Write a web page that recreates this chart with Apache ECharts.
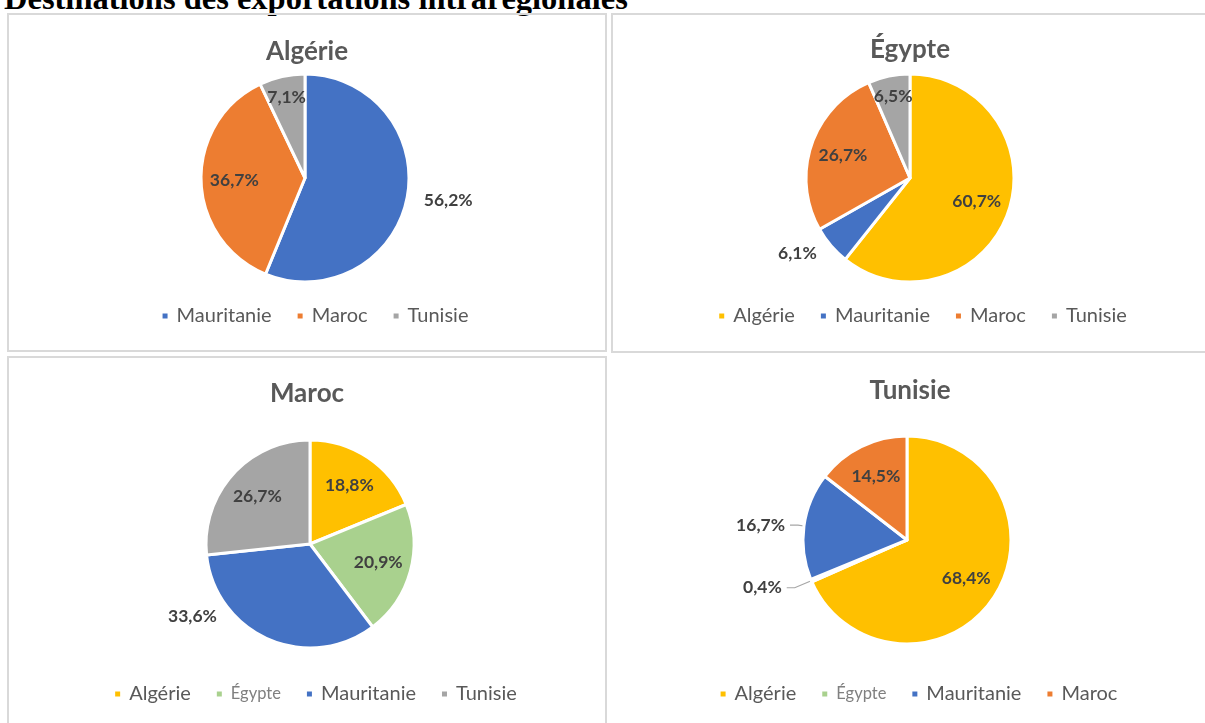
<!DOCTYPE html>
<html>
<head>
<meta charset="utf-8">
<script src="https://cdn.jsdelivr.net/npm/echarts@6/dist/echarts.min.js"></script>
<style>
html, body { margin: 0; padding: 0; width: 1205px; height: 723px; overflow: hidden; background: #fff; }
.cell { position: absolute; box-sizing: border-box; border: 2px solid #d9d9d9; }
.chart { position: absolute; }
#title { position: absolute; left: 4px; top: -18px; font: bold 32.5px "Liberation Serif"; line-height: 32px; white-space: nowrap; color: #000; }
</style>
</head>
<body>
<div id="title">Destinations des exportations intrarégionales</div>
<div class="cell" style="left:7px;top:13px;width:600px;height:339px"></div>
<div class="cell" style="left:611px;top:13px;width:700px;height:340px"></div>
<div class="cell" style="left:7px;top:356px;width:600px;height:400px"></div>
<div class="chart" id="c1" style="left:9px;top:15px;width:596px;height:335px"></div>
<div class="chart" id="c2" style="left:613px;top:15px;width:594px;height:336px"></div>
<div class="chart" id="c3" style="left:9px;top:358px;width:596px;height:365px"></div>
<div class="chart" id="c4" style="left:608px;top:353px;width:604px;height:370px"></div>
<script>
// parts de chaque destination (%)
var algerieNames = ['Mauritanie', 'Maroc', 'Tunisie'];
var algerieValues = [56.2, 36.7, 7.1];

var egypteNames = ['Algérie', 'Mauritanie', 'Maroc', 'Tunisie'];
var egypteValues = [60.7, 6.1, 26.7, 6.5];

var marocNames = ['Algérie', 'Égypte', 'Mauritanie', 'Tunisie'];
var marocValues = [18.8, 20.9, 33.6, 26.7];

var tunisieNames = ['Algérie', 'Égypte', 'Mauritanie', 'Maroc'];
var tunisieValues = [68.4, 0.4, 16.7, 14.5];

var colors = {
    'Algérie': '#FFC000',
    'Égypte': '#A9D18E',
    'Mauritanie': '#4472C4',
    'Maroc': '#ED7D31',
    'Tunisie': '#A5A5A5'
};

var R = 104;
var LEGEND_FONT = 20, EGYPT_FONT = 16.5, ITEM_GAP = 24;

var panels = [{
    id: 'c1', title: 'Algérie', names: algerieNames, values: algerieValues,
    modes: ['out', 'in', 'in'], center: [296, 163], titleTop: 24, legendTop: 291, legendShift: 6
}, {
    id: 'c2', title: 'Égypte', names: egypteNames, values: egypteValues,
    modes: ['in', 'out', 'in', 'in'], center: [297, 163], titleTop: 22, legendTop: 291, legendShift: 10
}, {
    id: 'c3', title: 'Maroc', names: marocNames, values: marocValues,
    modes: ['in', 'in', 'out', 'in'], center: [301, 186], titleTop: 23, legendTop: 326, legendShift: 6,
    nudge: { 2: [-42, -34] }, smallEgypt: true
}, {
    id: 'c4', title: 'Tunisie', names: tunisieNames, values: tunisieValues,
    modes: ['in', 'line', 'line', 'in'], center: [299, 187], titleTop: 25, legendTop: 331, legendShift: 6,
    smallEgypt: true
}];

function fmt(v) {
    return v.toFixed(1).replace('.', ',') + '%';
}

// rough legend width so it can sit a little right of centre, like in Excel
var measureCtx = document.createElement('canvas').getContext('2d');
function legendWidth(p) {
    var w = 0;
    p.names.forEach(function (n, i) {
        var fs = (p.smallEgypt && n === 'Égypte') ? EGYPT_FONT : LEGEND_FONT;
        measureCtx.font = fs + 'px Lato';
        w += 7 + 5 + 3 + measureCtx.measureText(n).width;
        if (i > 0) w += ITEM_GAP;
    });
    return w;
}

panels.forEach(function (p) {
    var total = p.values.reduce(function (a, b) { return a + b; }, 0);
    var acc = 0;
    // push inside labels out from half radius
    var shifts = p.values.map(function (v, i) {
        var mid = (acc + v / 2) / total * 2 * Math.PI;
        acc += v;
        if (p.nudge && p.nudge[i]) return p.nudge[i];
        if (p.modes[i] !== 'in') return [0, 0];
        var k = v < 10 ? 0.8 : 0.68;
        var d = k * R - R / 2 - 3;
        return [Math.sin(mid) * d, -Math.cos(mid) * d];
    });

    var data = p.names.map(function (n, i) {
        var m = p.modes[i];
        var tiny = p.values[i] < 1;
        return {
            name: n,
            value: p.values[i],
            itemStyle: { color: colors[n] },
            label: { position: m === 'in' ? 'inside' : 'outside' },
            labelLine: {
                show: m === 'line',
                length: m === 'line' ? (tiny ? 18 : 6) : 12,
                length2: m === 'line' ? 8 : 0
            }
        };
    });

    var dom = document.getElementById(p.id);
    var legendLeft = (dom.clientWidth - legendWidth(p)) / 2 + p.legendShift;

    var chart = echarts.init(dom);
    chart.setOption({
        animation: false,
        title: {
            text: p.title,
            left: 'center',
            top: p.titleTop,
            padding: 0,
            textStyle: { fontFamily: 'Lato', fontWeight: 'bold', fontSize: 26, color: '#595959' }
        },
        legend: {
            data: p.names,
            left: legendLeft,
            top: p.legendTop,
            padding: 0,
            icon: 'rect',
            itemWidth: 7,
            itemHeight: 7,
            itemGap: ITEM_GAP,
            selectedMode: false,
            formatter: function (n) {
                return (p.smallEgypt && n === 'Égypte') ? '{e|' + n + '}' : n;
            },
            textStyle: {
                fontFamily: 'Lato', fontSize: LEGEND_FONT, color: '#595959', padding: [0, 0, 0, 3],
                rich: { e: { fontFamily: 'Lato', fontSize: EGYPT_FONT, color: '#808080' } }
            }
        },
        series: [{
            type: 'pie',
            radius: R,
            center: p.center,
            startAngle: 90,
            clockwise: true,
            avoidLabelOverlap: false,
            data: data,
            itemStyle: { borderColor: '#fff', borderWidth: 3 },
            emphasis: { disabled: true },
            label: {
                formatter: function (d) { return fmt(d.value); },
                color: '#404040',
                fontFamily: 'Lato',
                fontWeight: 'bold',
                fontSize: 17.5
            },
            labelLine: { lineStyle: { color: '#a6a6a6', width: 1.2 } },
            labelLayout: function (params) {
                var s = shifts[params.dataIndex];
                return { dx: s[0], dy: s[1] };
            }
        }]
    });
});
</script>
</body>
</html>
